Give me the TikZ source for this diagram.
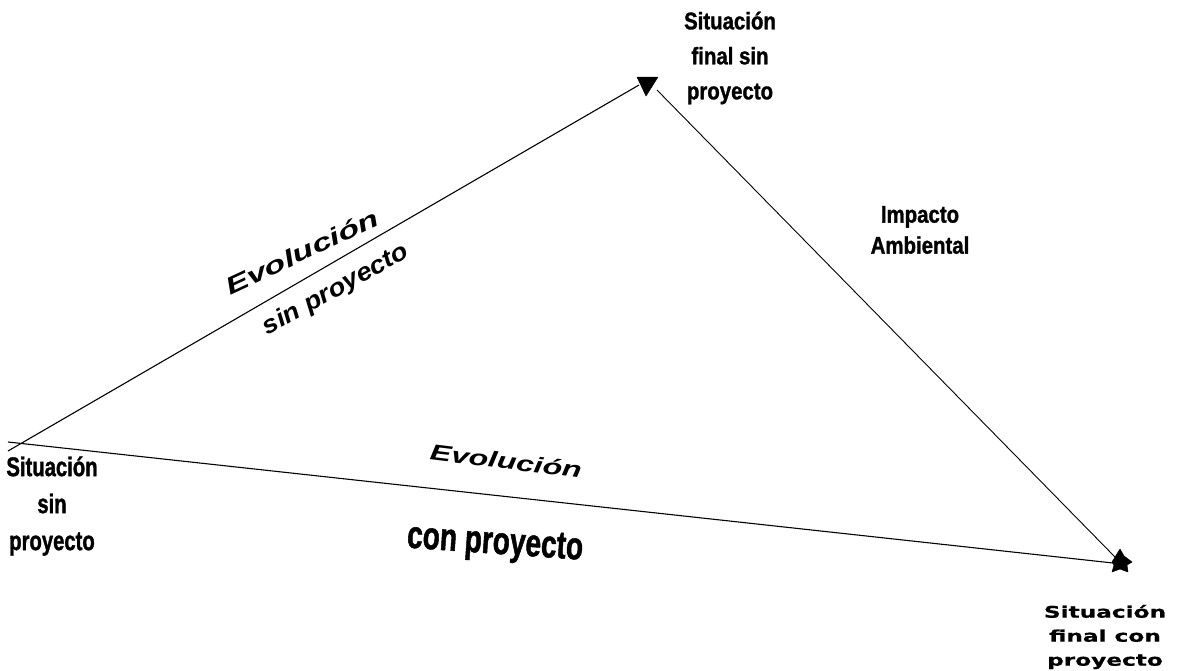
\documentclass[tikz,border=0pt]{standalone}
\usepackage{fontspec}
\setmainfont{Liberation Sans}
\newfontfamily\nrw[FakeStretch=0.85,FakeBold=1.2]{Liberation Sans}
\newfontfamily\nrwl[FakeStretch=0.75,FakeBold=1.2]{Liberation Sans}
\newfontfamily\tallf[FakeStretch=0.72,FakeBold=1.2]{Liberation Sans}
\newfontfamily\widef[FakeStretch=1.45,FakeBold=0.8]{DejaVu Sans}
\newfontfamily\wideit[FakeStretch=1.45]{Liberation Sans}
\newfontfamily\midit[FakeStretch=1.1]{Liberation Sans}
\begin{document}
\begin{tikzpicture}[x=1pt,y=-1pt,
  conn/.style={line width=1.1pt,draw=black},
  lbl/.style={inner sep=0pt,align=center,text=black},
  tip/.style={fill=black,draw=black,line join=round,line width=0.5pt}]
\useasboundingbox (0,0) rectangle (1181,670);
% connector end points
\coordinate (s1) at (8,451);
\coordinate (s2) at (8,442);
\coordinate (top) at (639,85);
\coordinate (top2) at (657,90);
\coordinate (fin) at (1115,557);
\coordinate (fin2) at (1113,563);
% connectors
\draw[conn] (s1) -- (top);
\draw[conn,line width=0.9pt] (top2) -- (fin);
\draw[conn] (s2) -- (fin2);
% arrow tips
\filldraw[tip] (637,77) -- (658,77) -- (646,96) -- cycle;
\filldraw[tip] (1112,562) -- (1120,549) -- (1124,556) -- (1132,562) -- (1127,565)
  -- (1128,572) -- (1120,569) -- (1112,572) -- (1114,565) -- cycle;
% labels
\node[lbl,font={\nrw\bfseries\fontsize{24}{35}\selectfont}] (tfin) at (730,58) {Situación\\final sin\\proyecto};
\node[lbl,font={\nrw\bfseries\fontsize{24}{31}\selectfont}] (imp) at (920,230) {Impacto\\Ambiental};
\node[lbl,font={\nrwl\bfseries\fontsize{27}{37}\selectfont}] (ini) at (52,506) {Situación\\sin\\proyecto};
\node[lbl,font={\widef\bfseries\fontsize{16}{24}\selectfont}] (bfin) at (1105,637) {Situación\\final con\\proyecto};
\node[lbl,rotate=25,font={\wideit\bfseries\itshape\fontsize{24}{28}\selectfont}] (evs) at (302,252) {Evolución};
\node[lbl,rotate=29,font={\midit\bfseries\itshape\fontsize{25}{28}\selectfont}] (sps) at (336,290) {sin proyecto};
\node[lbl,rotate=-7,font={\wideit\bfseries\itshape\fontsize{22}{26}\selectfont}] (evc) at (506,461) {Evolución};
\node[lbl,rotate=-4,font={\tallf\bfseries\fontsize{39}{42}\selectfont}] (cpc) at (495,545) {con proyecto};
\end{tikzpicture}
\end{document}
